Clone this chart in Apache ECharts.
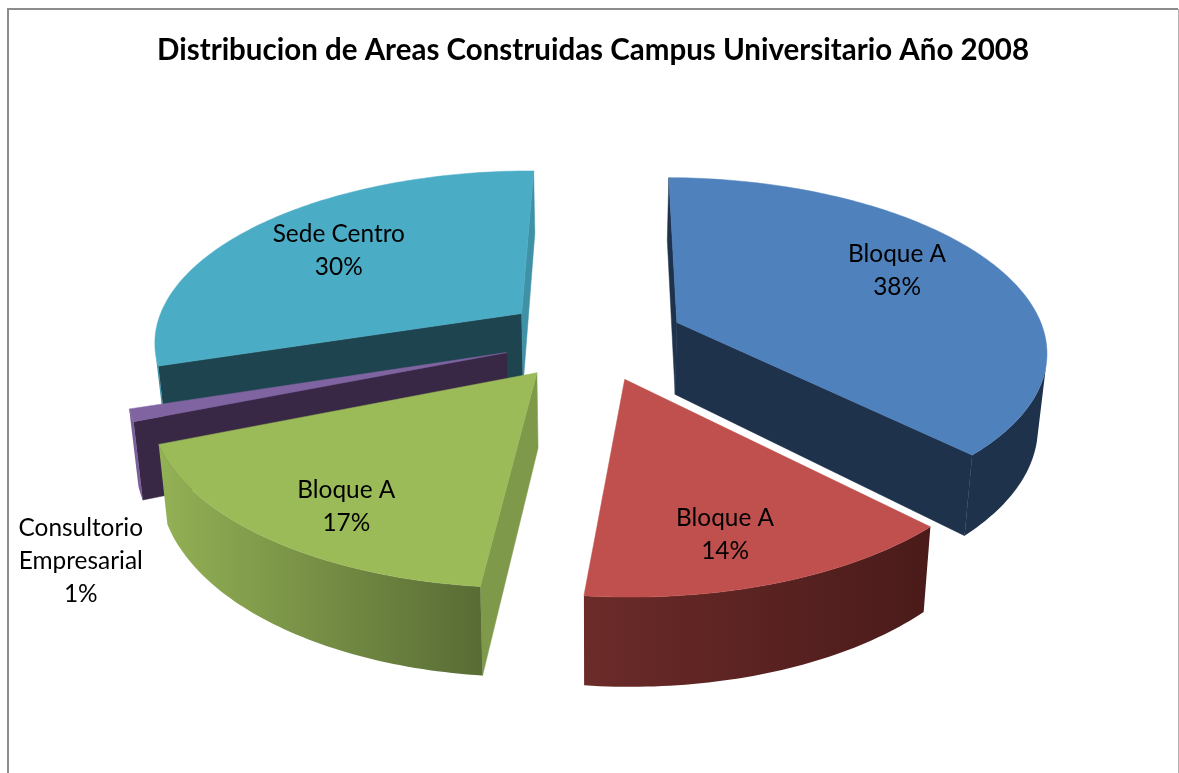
<!DOCTYPE html>
<html><head><meta charset="utf-8">
<style>html,body{margin:0;padding:0;background:#fff}#c{width:1179px;height:773px}</style>
<script src="https://cdn.jsdelivr.net/npm/echarts@6/dist/echarts.min.js"></script>
</head><body><div id="c"></div>
<script>
var categories = ['Bloque A','Bloque A','Bloque A','Consultorio\nEmpresarial','Sede Centro'];
var values = [37.5,14,17.3,1.1,30.1];
var chartTitle = 'Distribucion de Areas Construidas Campus Universitario Año 2008';
var topColors = ['#4f81bd','#c0504d','#9bbb59','#8064a2','#4bacc6'];
var startWallColors = ['#1f324c','#4d1f1e','#7f994a','#382845','#1e454f'];
var endWallColors = ['#1f324c','#4d1f1e','#7f994a','#7a5f9b','#3f91a6'];
var arcGradients = [['#1f324c','#1f324c'],['#6b2b29','#4a1b1a'],['#93b155','#596c35'],['#7a5f9b','#7a5f9b'],['#3f91a6','#3f91a6']];

var CX=593.5,CY=338,R=369,H=171,K=0.151,DEPTH=73,CONV=0.02,EXPLODE=0.247,START=0.5;
var drawOrder=[4,3,0,2,1];
// label placement: ground radius as a fraction of pie radius, plus a pixel nudge
var labelR=[0.65,0.8,0.82,1.12,0.62];
var labelNudgeX=[11.5,-18.5,25,-2.5,-15.5];
var labelNudgeY=[-13,-2,2,138,-6];

function project(x,y,z){
  var s=1/(1+K*y), X=R*x*s, Y=-H*y*s;
  return [CX+X*(1-CONV*z), CY+Y+DEPTH*s*z];
}
var total=values.reduce(function(a,b){return a+b},0);
var slices=[],acc=START;
values.forEach(function(v){var sw=v/total*360;slices.push({a0:acc,a1:acc+sw});acc+=sw;});
function rad(d){return d*Math.PI/180}
function area(p){var s=0;for(var i=0;i<p.length;i++){var q=p[(i+1)%p.length];s+=p[i][0]*q[1]-q[0]*p[i][1];}return s/2;}

function renderSlice(params,api){
  var idx=api.value(0),sl=slices[idx];
  var mid=rad((sl.a0+sl.a1)/2);
  var ox=EXPLODE*Math.sin(mid),oy=EXPLODE*Math.cos(mid);
  var n=Math.max(6,Math.round((sl.a1-sl.a0)));
  var arc=[];for(var i=0;i<=n;i++){var t=rad(sl.a0+(sl.a1-sl.a0)*i/n);arc.push([ox+Math.sin(t),oy+Math.cos(t)]);}
  var apex=[ox,oy];
  function face(a,b){return [project(a[0],a[1],0),project(b[0],b[1],0),project(b[0],b[1],1),project(a[0],a[1],1)];}
  var kids=[];
  [[apex,arc[0],startWallColors[idx]],[arc[n],apex,endWallColors[idx]]].forEach(function(e){
    var f=face(e[0],e[1]);
    if(area(f)<0) kids.push({type:'polygon',shape:{points:f},style:{fill:e[2],stroke:e[2],lineWidth:0.5}});
  });
  var tops=[],bots=[];
  for(i=0;i<n;i++){
    var f=face(arc[i],arc[i+1]);
    if(area(f)<0){
      if(!tops.length){tops.push(f[0]);bots.push(f[3]);}
      tops.push(f[1]);bots.push(f[2]);
    }
  }
  if(tops.length){
    var xs=tops.map(function(p){return p[0]});
    var mn=Math.min.apply(null,xs),mx=Math.max.apply(null,xs);
    var g=arcGradients[idx];
    var fill=new echarts.graphic.LinearGradient(mn,0,mx,0,[{offset:0,color:g[0]},{offset:1,color:g[1]}],true);
    kids.push({type:'polygon',shape:{points:tops.concat(bots.reverse())},style:{fill:fill}});
  }
  var top=[project(apex[0],apex[1],0)].concat(arc.map(function(p){return project(p[0],p[1],0)}));
  kids.push({type:'polygon',shape:{points:top},style:{fill:topColors[idx],stroke:topColors[idx],lineWidth:0.5}});
  var lp=project(ox+labelR[idx]*Math.sin(mid),oy+labelR[idx]*Math.cos(mid),0);
  kids.push({type:'text',z2:10,style:{x:lp[0]+labelNudgeX[idx],y:lp[1]+labelNudgeY[idx],text:categories[idx]+'\n'+Math.round(values[idx])+'%',align:'center',verticalAlign:'middle',fill:'#000',font:'24.4px Lato',lineHeight:33}});
  return {type:'group',children:kids};
}
var chart=echarts.init(document.getElementById('c'),null,{renderer:'canvas'});
chart.setOption({
  animation:false,backgroundColor:'#fff',
  title:{text:chartTitle,left:588,textAlign:'center',top:30,textStyle:{fontFamily:'Lato',fontWeight:'bold',fontSize:29.5,color:'#000'}},
  graphic:[
    {type:'line',silent:true,shape:{x1:8,y1:9,x2:1178,y2:9},style:{stroke:'#8c8c8c',lineWidth:2}},
    {type:'line',silent:true,shape:{x1:8,y1:8,x2:8,y2:773},style:{stroke:'#8c8c8c',lineWidth:2}},
    {type:'line',silent:true,shape:{x1:1178.5,y1:9,x2:1178.5,y2:773},style:{stroke:'#b0b0b0',lineWidth:1}}
  ],
  series:[{type:'custom',coordinateSystem:'none',data:drawOrder.map(function(i){return [i]}),renderItem:renderSlice}]
});
</script></body></html>
